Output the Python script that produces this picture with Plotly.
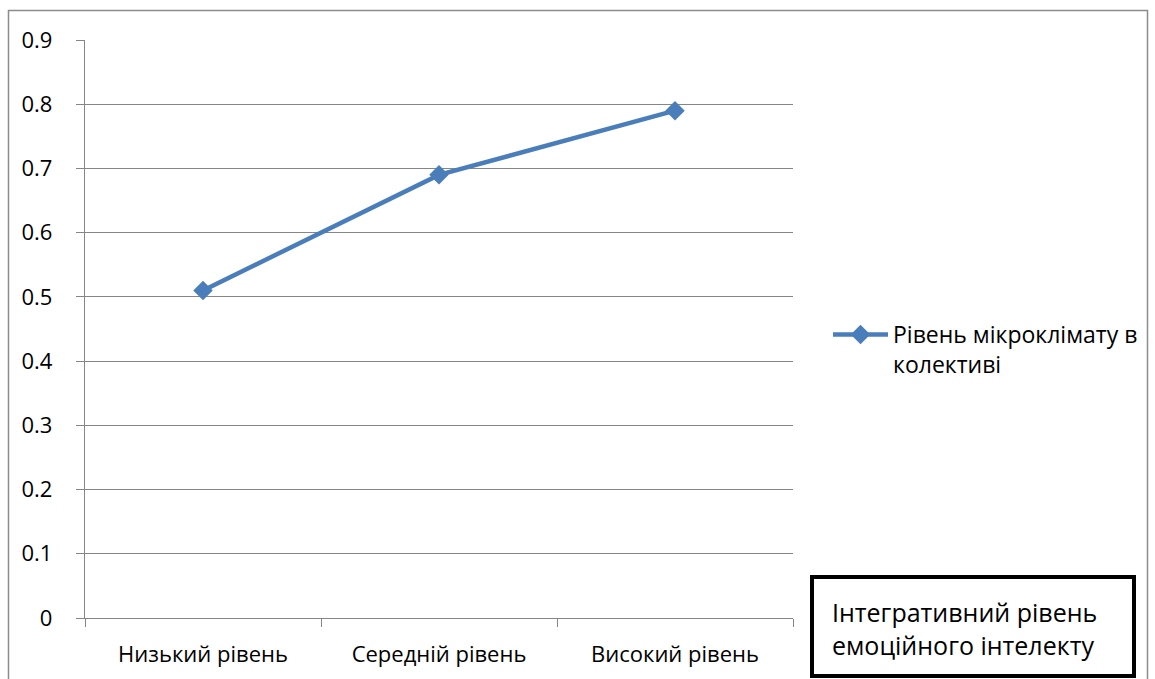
import plotly.graph_objects as go

categories = ["Низький рівень", "Середній рівень", "Високий рівень"]
values = [0.51, 0.69, 0.79]
series_name = "Рівень мікроклімату в<br>колективі"
y_ticks = [0, 0.1, 0.2, 0.3, 0.4, 0.5, 0.6, 0.7, 0.8, 0.9]
y_tick_text = ["0", "0.1", "0.2", "0.3", "0.4", "0.5", "0.6", "0.7", "0.8", "0.9"]
box_text = "Інтегративний рівень<br>емоційного інтелекту"

W, H = 1155, 679
L, R, T, B = 85, 793, 40, 618
FONT = "Open Sans"
BLUE = "#4A7EBB"
GRID = "#868686"


def px(x):
    return (x - L) / (R - L)


def py(y):
    return (B - y) / (B - T)


fig = go.Figure()
fig.add_trace(go.Scatter(
    x=categories, y=values, mode="lines+markers", name=series_name,
    line=dict(color=BLUE, width=4.5),
    marker=dict(symbol="diamond", size=15, color=BLUE),
))

fig.update_layout(
    width=W, height=H,
    margin=dict(l=L, r=W - R, t=T, b=H - B, pad=0),
    paper_bgcolor="white", plot_bgcolor="white",
    font=dict(family=FONT, size=22, color="black"),
    showlegend=True,
    legend=dict(x=px(828), y=py(313), xanchor="left", yanchor="top",
                valign="top", font=dict(size=23), itemwidth=55,
                bgcolor="rgba(0,0,0,0)", tracegroupgap=0),
    xaxis=dict(
        type="category", range=[-0.5, 2.5], showgrid=False,
        showline=True, linecolor=GRID, linewidth=1.3,
        ticks="outside", tickson="boundaries", ticklen=8,
        tickcolor=GRID, tickwidth=1.3, ticklabelstandoff=16,
        zeroline=False,
    ),
    yaxis=dict(
        range=[0, 0.9], tickvals=y_ticks, ticktext=y_tick_text,
        showgrid=True, gridcolor=GRID, gridwidth=1.3,
        showline=True, linecolor=GRID, linewidth=1.3,
        ticks="outside", ticklen=8, tickcolor=GRID, tickwidth=1.3,
        ticklabelstandoff=19, zeroline=False,
    ),
    shapes=[
        # outer chart border
        dict(type="rect", xref="paper", yref="paper",
             x0=px(8.5), x1=px(1147.5), y0=py(700), y1=py(10.5),
             line=dict(color="#8C8C8C", width=1.5), fillcolor="rgba(0,0,0,0)",
             layer="below"),
        # caption frame
        dict(type="rect", xref="paper", yref="paper",
             x0=px(812), x1=px(1134), y0=py(676), y1=py(577),
             line=dict(color="black", width=4), fillcolor="white"),
    ],
    annotations=[
        dict(xref="paper", yref="paper", x=px(830), y=py(628),
             xanchor="left", yanchor="middle", align="left",
             text=box_text, showarrow=False,
             font=dict(family=FONT, size=25, color="black")),
    ],
)

fig.write_html("out.html")
